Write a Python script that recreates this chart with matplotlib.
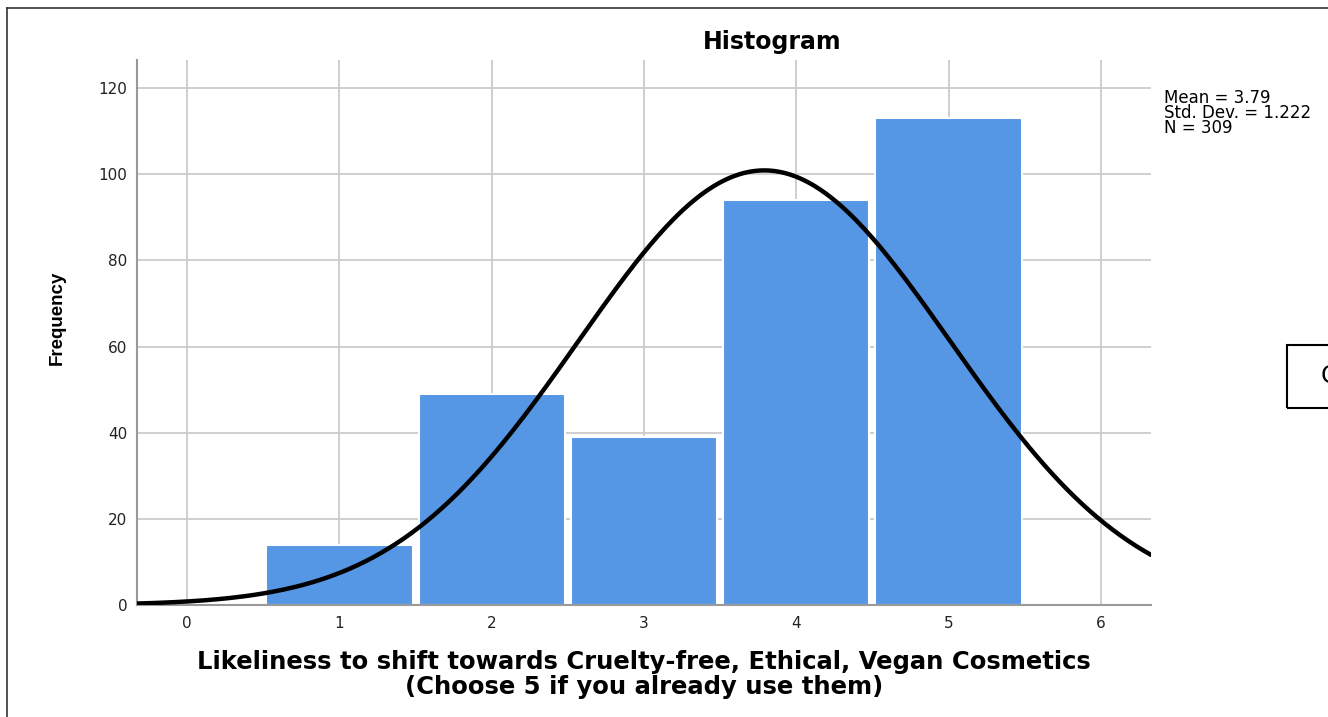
import numpy as np
import matplotlib.pyplot as plt
from matplotlib.patches import Rectangle

# histogram counts per response value
values = [1, 2, 3, 4, 5]
counts = [14, 49, 39, 94, 113]
mean_val = 3.79
std_val = 1.222
n_val = 309

plt.rcParams['font.family'] = ['DejaVu Sans']

fig = plt.figure(figsize=(13.28, 7.17), dpi=100)
W, H = 1328, 717
ax = fig.add_axes([137 / W, 1 - 605 / H, (1151 - 137) / W, (605 - 60) / H])

ax.bar(values, counts, width=0.96, color='#5596e5', edgecolor='white', linewidth=1.5, zorder=2)

xs = np.linspace(-0.33, 6.33, 400)
pdf = n_val / (std_val * np.sqrt(2 * np.pi)) * np.exp(-0.5 * ((xs - mean_val) / std_val) ** 2)
ax.plot(xs, pdf, color='black', lw=3.2, zorder=3, solid_capstyle='round')

ax.set_xlim(-0.33, 6.33)
ax.set_ylim(0, 126.5)
ax.set_xticks(range(0, 7))
ax.set_yticks(range(0, 121, 20))
ax.grid(True, color='#cccccc', lw=1.3, zorder=0)
ax.set_axisbelow(True)
for s in ['top', 'right']:
    ax.spines[s].set_visible(False)
for s in ['left', 'bottom']:
    ax.spines[s].set_color('#999999')
    ax.spines[s].set_linewidth(1.5)
ax.tick_params(length=0, labelsize=11, colors='#222222')
ax.tick_params(axis='y', pad=7)
ax.tick_params(axis='x', pad=8)

fig.text(772 / W, 1 - 42 / H, 'Histogram', ha='center', va='center', fontsize=17, fontweight='bold')
fig.text(57 / W, 1 - 318 / H, 'Frequency', ha='center', va='center', rotation=90, fontsize=13.5,
         fontweight='bold', family=['Liberation Sans', 'DejaVu Sans'])
fig.text(644 / W, 1 - 662 / H, 'Likeliness to shift towards Cruelty-free, Ethical, Vegan Cosmetics',
         ha='center', va='center', fontsize=17.5, fontweight='bold')
fig.text(644 / W, 1 - 687 / H, '(Choose 5 if you already use them)',
         ha='center', va='center', fontsize=17.5, fontweight='bold')
fig.text(1164 / W, 1 - 89 / H, 'Mean = %.2f\nStd. Dev. = %.3f\nN = %d' % (mean_val, std_val, n_val),
         ha='left', va='top', fontsize=12, linespacing=0.8)

# outer frame and the partly visible box at the right edge
fig.add_artist(plt.Line2D([7 / W, 1], [1 - 8 / H, 1 - 8 / H], transform=fig.transFigure, color='#333333', lw=1.2))
fig.add_artist(plt.Line2D([7 / W, 7 / W], [1 - 8 / H, 0], transform=fig.transFigure, color='#333333', lw=1.2))
fig.add_artist(Rectangle((1287 / W, 1 - 408 / H), 60 / W, 63 / H, transform=fig.transFigure,
                         fill=False, edgecolor='black', lw=1.5))
fig.text(1321 / W, 1 - 376 / H, 'C', ha='left', va='center', fontsize=17)

fig.savefig('out.png', dpi=100)
plt.close()
